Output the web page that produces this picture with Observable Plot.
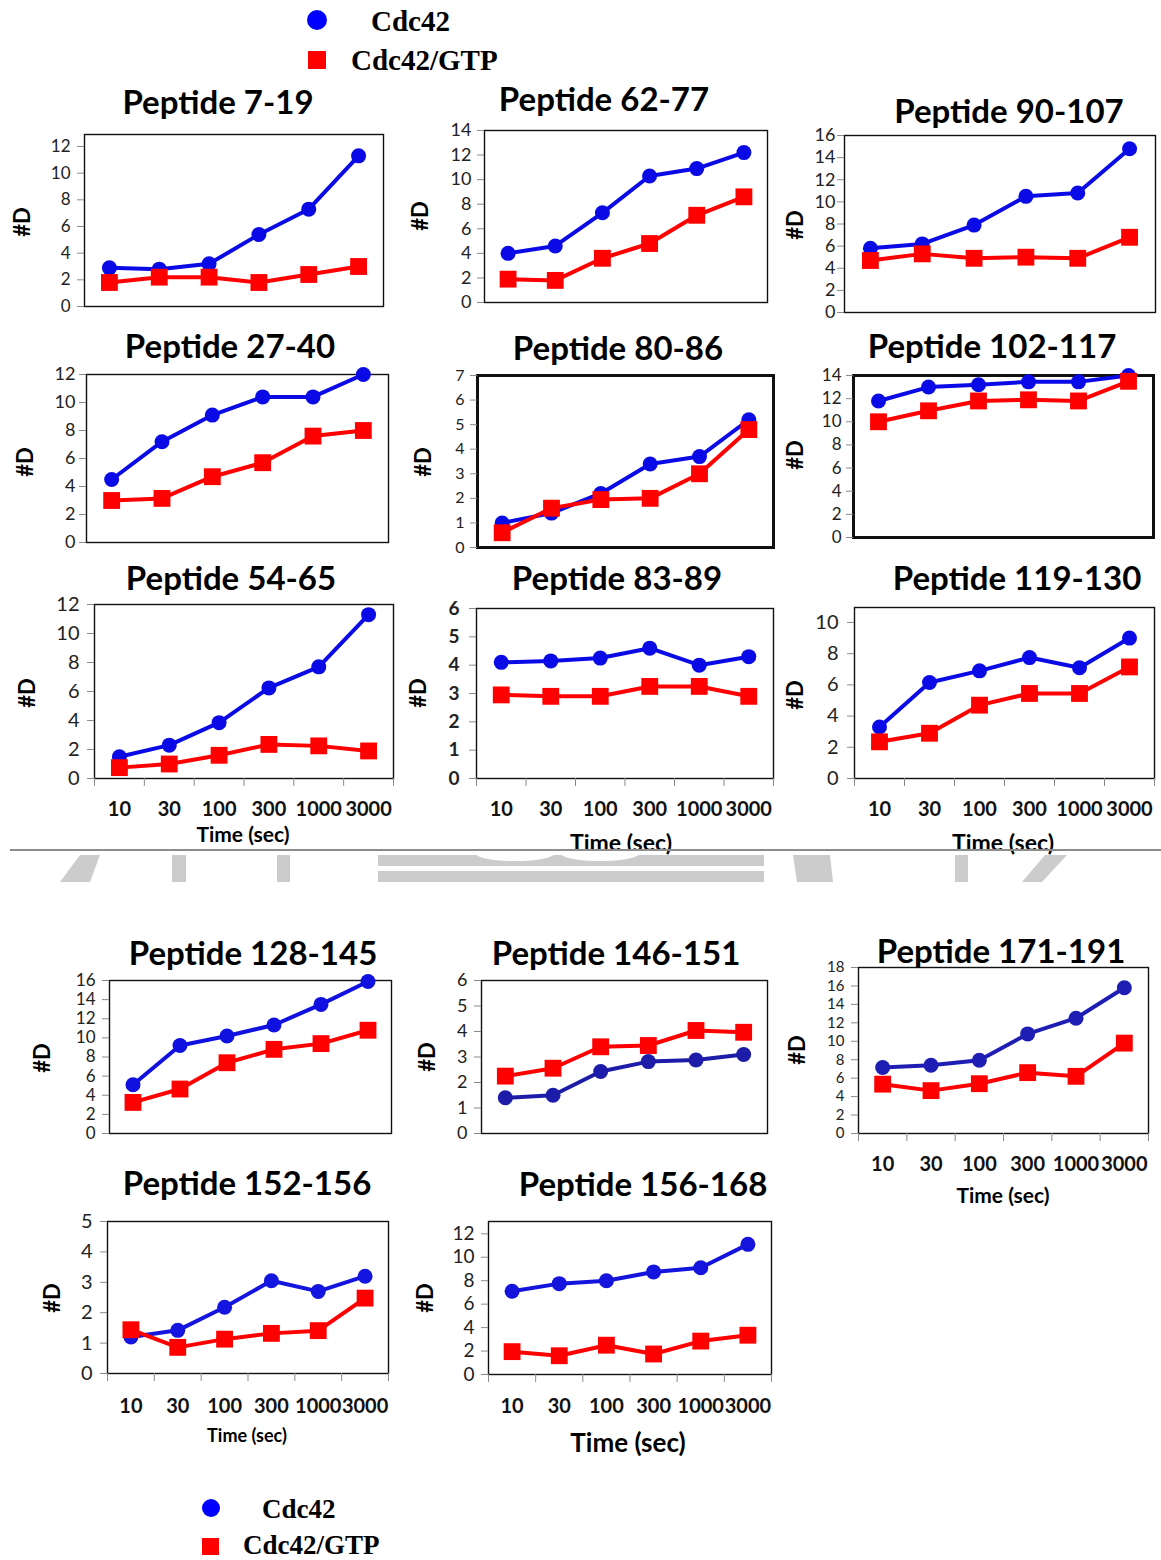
<!DOCTYPE html>
<html><head><meta charset="utf-8">
<script src="https://cdn.jsdelivr.net/npm/d3@7"></script>
<script src="https://cdn.jsdelivr.net/npm/@observablehq/plot@0.6"></script>
<style>
html,body{margin:0;padding:0;background:#fff;}
#root{position:relative;width:1161px;height:1560px;overflow:hidden;font-family:Lato,sans-serif;background:#fff;}
.t{position:absolute;white-space:nowrap;transform:translate(-50%,-50%);color:#000;line-height:1;}
.title{font-weight:bold;font-size:33px;}
.ylab{font-weight:bold;font-size:22px;transform:translate(-50%,-50%) rotate(-90deg);}
.xlab{font-weight:bold;}
.leg{position:absolute;white-space:nowrap;font-family:"Liberation Serif",serif;font-weight:bold;color:#000;line-height:1;transform:translate(0,-50%);}
.sw{position:absolute;}
svg.plot-panel{position:absolute;}
</style></head>
<body><div id="root"></div>
<script>
// ---------------- data ----------------
const times = ["10", "30", "100", "300", "1000", "3000"];
const seriesNames = ["Cdc42", "Cdc42/GTP"];

const cdc42_7_19 = [2.9, 2.8, 3.2, 5.4, 7.3, 11.3];
const gtp_7_19 = [1.8, 2.2, 2.2, 1.8, 2.4, 3.0];
const cdc42_62_77 = [4.0, 4.6, 7.3, 10.3, 10.9, 12.2];
const gtp_62_77 = [1.9, 1.8, 3.6, 4.8, 7.1, 8.6];
const cdc42_90_107 = [5.8, 6.2, 7.9, 10.5, 10.8, 14.8];
const gtp_90_107 = [4.7, 5.3, 4.9, 5.0, 4.9, 6.8];
const cdc42_27_40 = [4.5, 7.2, 9.1, 10.4, 10.4, 12.0];
const gtp_27_40 = [3.0, 3.15, 4.7, 5.7, 7.6, 8.0];
const cdc42_80_86 = [1.0, 1.4, 2.2, 3.4, 3.7, 5.2];
const gtp_80_86 = [0.6, 1.6, 1.95, 2.0, 3.0, 4.8];
const cdc42_102_117 = [11.8, 13.0, 13.2, 13.45, 13.45, 14.0];
const gtp_102_117 = [10.0, 10.95, 11.8, 11.9, 11.8, 13.5];
const cdc42_54_65 = [1.5, 2.3, 3.85, 6.25, 7.7, 11.3];
const gtp_54_65 = [0.75, 1.0, 1.6, 2.35, 2.25, 1.9];
const cdc42_83_89 = [4.1, 4.15, 4.25, 4.6, 4.0, 4.3];
const gtp_83_89 = [2.95, 2.9, 2.9, 3.25, 3.25, 2.9];
const cdc42_119_130 = [3.3, 6.15, 6.9, 7.75, 7.1, 9.0];
const gtp_119_130 = [2.35, 2.9, 4.7, 5.45, 5.45, 7.15];
const cdc42_128_145 = [5.1, 9.2, 10.2, 11.35, 13.5, 15.9];
const gtp_128_145 = [3.25, 4.65, 7.4, 8.8, 9.4, 10.8];
const cdc42_146_151 = [1.4, 1.5, 2.43, 2.82, 2.88, 3.1];
const gtp_146_151 = [2.25, 2.56, 3.4, 3.45, 4.04, 3.97];
const cdc42_171_191 = [7.15, 7.4, 7.95, 10.8, 12.5, 15.8];
const gtp_171_191 = [5.35, 4.65, 5.4, 6.6, 6.2, 9.8];
const cdc42_152_156 = [1.2, 1.42, 2.18, 3.05, 2.7, 3.2];
const gtp_152_156 = [1.44, 0.86, 1.13, 1.32, 1.41, 2.48];
const cdc42_156_168 = [7.1, 7.75, 8.0, 8.75, 9.1, 11.1];
const gtp_156_168 = [1.95, 1.6, 2.5, 1.75, 2.85, 3.35];

// y tick labels
const ticks5 = [0, 1, 2, 3, 4, 5];
const ticks6 = [0, 1, 2, 3, 4, 5, 6];
const ticks7 = [0, 1, 2, 3, 4, 5, 6, 7];
const ticks10 = [0, 2, 4, 6, 8, 10];
const ticks12 = [0, 2, 4, 6, 8, 10, 12];
const ticks14 = [0, 2, 4, 6, 8, 10, 12, 14];
const ticks16 = [0, 2, 4, 6, 8, 10, 12, 14, 16];
const ticks18 = [0, 2, 4, 6, 8, 10, 12, 14, 16, 18];

// ---------------- layout ----------------
const panels = [
  {title:"Peptide 7-19", blue:cdc42_7_19, red:gtp_7_19, ticks:ticks12, ymax:12.9, L:84, R:383, T:134, B:306, tc:[218,101], yl:[22,222], yfs:17, pad:14},
  {title:"Peptide 62-77", blue:cdc42_62_77, red:gtp_62_77, ticks:ticks14, ymax:14, L:484, R:767, T:130, B:302, tc:[604,98], yl:[420,216], yfs:18, pad:13},
  {title:"Peptide 90-107", blue:cdc42_90_107, red:gtp_90_107, ticks:ticks16, ymax:16, L:844, R:1155, T:135, B:312, tc:[1009,110], yl:[795,225], yfs:18, pad:9},
  {title:"Peptide 27-40", blue:cdc42_27_40, red:gtp_27_40, ticks:ticks12, ymax:12, L:86, R:388, T:374, B:542, tc:[230,345], yl:[25,462], yfs:18, pad:11},
  {title:"Peptide 80-86", blue:cdc42_80_86, red:gtp_80_86, ticks:ticks7, ymax:7, L:477, R:773, T:375, B:547, tc:[618,347], yl:[423,462], yfs:16, pad:13, thick:true},
  {title:"Peptide 102-117", blue:cdc42_102_117, red:gtp_102_117, ticks:ticks14, ymax:14, L:853, R:1153, T:375, B:537, tc:[992,345], yl:[795,455], yfs:17, pad:12, thick:true},
  {title:"Peptide 54-65", blue:cdc42_54_65, red:gtp_54_65, ticks:ticks12, ymax:12, L:94, R:393, T:604, B:778, tc:[231,577], yl:[27,693], yfs:20, pad:15, xa:{y:808, fs:20, tt:[243,833], tfs:21}},
  {title:"Peptide 83-89", blue:cdc42_83_89, red:gtp_83_89, ticks:ticks6, ymax:6, L:476, R:773, T:608, B:778, tc:[617,577], yl:[418,693], yfs:19, yfw:"bold", pad:17, xa:{y:808, fs:20, tt:[621,842], tfs:23}},
  {title:"Peptide 119-130", blue:cdc42_119_130, red:gtp_119_130, ticks:ticks10, ymax:10.96, L:854, R:1154, T:607, B:778, tc:[1017,577], yl:[795,695], yfs:20, pad:16, xa:{y:808, fs:20, tt:[1003,842], tfs:23}},
  {title:"Peptide 128-145", blue:cdc42_128_145, red:gtp_128_145, ticks:ticks16, ymax:16, L:109, R:391, T:980, B:1133, tc:[253,952], yl:[42,1058], yfs:17, pad:14, bc:"#1010e0"},
  {title:"Peptide 146-151", blue:cdc42_146_151, red:gtp_146_151, ticks:ticks6, ymax:6, L:481, R:767, T:980, B:1133, tc:[616,952], yl:[427,1057], yfs:18, pad:14, bc:"#1c1ca8"},
  {title:"Peptide 171-191", blue:cdc42_171_191, red:gtp_171_191, ticks:ticks18, ymax:18, L:858, R:1148, T:967, B:1133, tc:[1001,950], yl:[797,1050], yfs:15, pad:14, bc:"#1e1eb4", xa:{y:1163, fs:20, tt:[1003,1194], tfs:21}},
  {title:"Peptide 152-156", blue:cdc42_152_156, red:gtp_152_156, ticks:ticks5, ymax:5, L:107, R:388, T:1221, B:1373, tc:[247,1182], yl:[52,1298], yfs:20, pad:15, bc:"#1515e0", xa:{y:1405, fs:20, tt:[247,1435], tfs:18}},
  {title:"Peptide 156-168", blue:cdc42_156_168, red:gtp_156_168, ticks:ticks12, ymax:13.05, L:488, R:771, T:1221, B:1374, tc:[643,1183], yl:[425,1298], yfs:19, pad:14, bc:"#1414dc", xa:{y:1405, fs:20, tt:[628,1442], tfs:26}}
];

const BLUE = "#0a0ae6", RED = "#ff0000";
const root = document.getElementById("root");

function addText(cls, str, x, y, css) {
  const d = document.createElement("div");
  d.className = cls;
  d.textContent = str;
  d.style.left = x + "px";
  d.style.top = y + "px";
  if (css) Object.assign(d.style, css);
  root.appendChild(d);
  return d;
}

const idx = times.map((t, i) => i);
const bounds = times.map((t, i) => i - 0.5).concat([times.length - 0.5]);

for (const p of panels) {
  const ml = 70, mr = 14, mt = 14, mb = p.xa ? 80 : 14;
  const fw = p.R - p.L, fh = p.B - p.T;
  const bc = p.bc || BLUE;
  const marks = [
    Plot.frame({stroke: "#111", strokeWidth: p.thick ? 3 : 1.4}),
    Plot.axisY({ticks: p.ticks, tickSize: 7, tickPadding: p.pad - 7, stroke: "#8a8a8a", fill: "#222",
      fontSize: p.yfs, fontWeight: p.yfw || "normal", tickFormat: d => String(d)}),
    Plot.lineY(p.blue, {x: (d, i) => i, y: d => d, stroke: bc, strokeWidth: 4}),
    Plot.dot(p.blue, {x: (d, i) => i, y: d => d, r: 7.5, fill: bc, stroke: null}),
    Plot.lineY(p.red, {x: (d, i) => i, y: d => d, stroke: RED, strokeWidth: 4}),
    Plot.dot(p.red, {x: (d, i) => i, y: d => d, r: 9.5, symbol: "square", fill: RED, stroke: null})
  ];
  if (p.xa) {
    marks.push(Plot.axisX({ticks: bounds, tickSize: 8, stroke: "#8a8a8a", tickFormat: () => ""}));
    marks.push(Plot.axisX({ticks: idx, tickSize: 0, tickPadding: p.xa.y - p.B - 0.36 * p.xa.fs,
      tickFormat: i => times[i], fontSize: p.xa.fs, fontWeight: "bold", fill: "#111"}));
  }
  const svg = Plot.plot({
    width: fw + ml + mr, height: fh + mt + mb,
    marginLeft: ml, marginRight: mr, marginTop: mt, marginBottom: mb,
    x: {type: "linear", domain: [-0.5, times.length - 0.5], axis: p.xa ? undefined : null},
    y: {domain: [0, p.ymax]},
    style: {background: "transparent", overflow: "visible", fontFamily: "Lato, sans-serif", fontSize: p.yfs + "px", color: "#222"},
    marks
  });
  svg.classList.add("plot-panel");
  svg.style.left = (p.L - ml) + "px";
  svg.style.top = (p.T - mt) + "px";
  root.appendChild(svg);

  addText("t title", p.title, p.tc[0], p.tc[1]);
  addText("t ylab", "#D", p.yl[0], p.yl[1]);
  if (p.xa) addText("t xlab", "Time (sec)", p.xa.tt[0], p.xa.tt[1], {fontSize: p.xa.tfs + "px"});
}

// separator line and faint watermark fragments
const sep = document.createElement("div");
Object.assign(sep.style, {position: "absolute", left: "10px", top: "849px", width: "1151px", height: "2px", background: "#8c8c8c"});
root.appendChild(sep);
const wm = document.createElementNS("http://www.w3.org/2000/svg", "svg");
wm.setAttribute("width", "1161"); wm.setAttribute("height", "40");
Object.assign(wm.style, {position: "absolute", left: "0px", top: "851px"});
wm.innerHTML = `<g fill="#cccccc">
<polygon points="80,4 100,4 90,31 60,31"/>
<rect x="172" y="4" width="14" height="27"/>
<rect x="277" y="4" width="13" height="27"/>
<rect x="378" y="4" width="386" height="11"/>
<rect x="378" y="20" width="386" height="11"/>
<polygon points="793,4 830,4 833,31 797,31"/>
<rect x="955" y="4" width="13" height="27"/>
<polygon points="1045,4 1067,4 1042,31 1022,31"/>
</g>
<g fill="#ffffff"><ellipse cx="515" cy="2" rx="40" ry="8"/><ellipse cx="600" cy="2" rx="40" ry="8"/></g>`;
root.appendChild(wm);

// legends (top and bottom)
function legend(cx, cy, sqx, sqy, tx1, tx2, ty1, ty2, fs, r, s) {
  const c = document.createElement("div");
  c.className = "sw";
  Object.assign(c.style, {left: (cx - r) + "px", top: (cy - r) + "px", width: 2 * r + "px", height: 2 * r + "px", borderRadius: "50%", background: "#0000ff"});
  root.appendChild(c);
  const q = document.createElement("div");
  q.className = "sw";
  Object.assign(q.style, {left: sqx + "px", top: sqy + "px", width: s + "px", height: s + "px", background: "#ff0000"});
  root.appendChild(q);
  addText("leg", seriesNames[0], tx1, ty1, {fontSize: fs + "px"});
  addText("leg", seriesNames[1], tx2, ty2, {fontSize: fs + "px"});
}
legend(317, 20, 308, 51, 371, 351, 21, 60, 29, 10, 18);
legend(211, 1508, 202, 1538, 262, 243, 1509, 1545, 27, 9, 17);
</script>
</body></html>
